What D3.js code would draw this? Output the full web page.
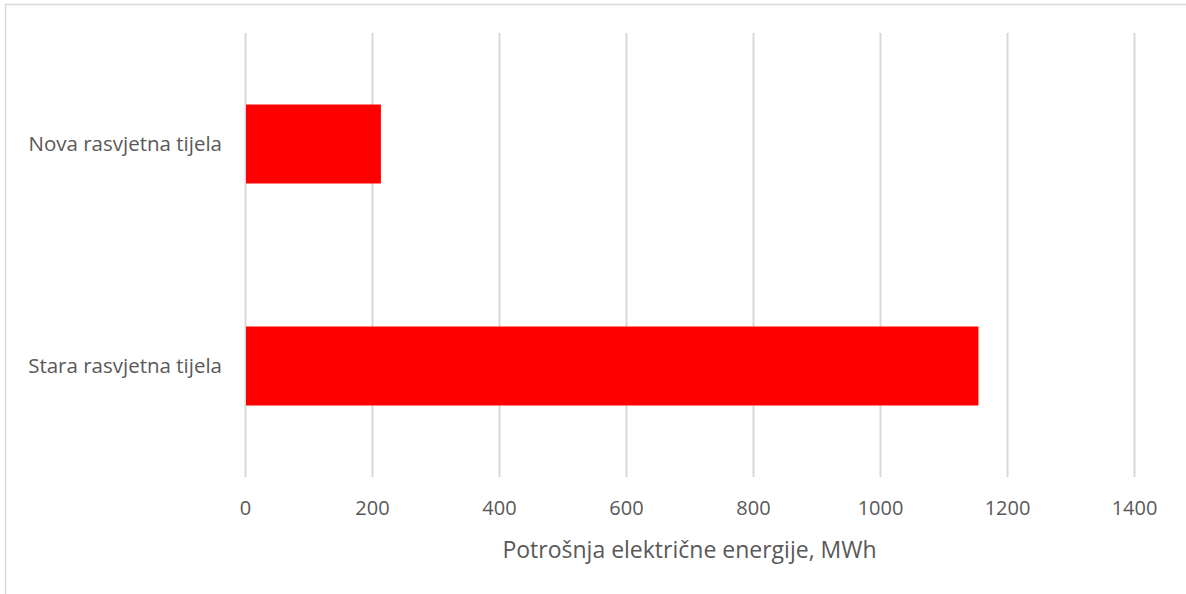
<!DOCTYPE html>
<html>
<head>
<meta charset="utf-8">
<script src="https://cdn.jsdelivr.net/npm/d3@7"></script>
<style>
  body { margin: 0; background: #fff; }
  text { font-family: "Open Sans", "Noto Sans", sans-serif; fill: #595959; }
</style>
</head>
<body>
<div id="chart"></div>
<script>
// podaci o potrosnji
let categories = ['Nova rasvjetna tijela', 'Stara rasvjetna tijela'];
let values = [214, 1155];
let xTicks = [0, 200, 400, 600, 800, 1000, 1200, 1400];
let xTitle = 'Potrošnja električne energije, MWh';

var W = 1186, H = 594;
var margin = { left: 245, right: 52, top: 33, bottom: 117 };

var svg = d3.select('#chart').append('svg')
    .attr('width', W).attr('height', H);

// okvir grafikona
svg.append('rect')
    .attr('x', 5.5).attr('y', 4.5)
    .attr('width', W + 10).attr('height', H + 10)
    .attr('fill', 'none').attr('stroke', '#d9d9d9').attr('stroke-width', 1.5);

var x = d3.scaleLinear().domain([0, 1400]).range([margin.left, W - margin.right]);
var band = d3.scaleBand().domain(categories).range([margin.top, H - margin.bottom]);

var xAxis = svg.append('g')
    .attr('transform', 'translate(0,' + (H - margin.bottom) + ')')
    .call(d3.axisBottom(x).tickValues(xTicks).tickFormat(d3.format('d'))
        .tickSize(-(H - margin.top - margin.bottom)).tickPadding(24));
xAxis.select('.domain').remove();
xAxis.selectAll('line').attr('stroke', '#d9d9d9').attr('stroke-width', 2);
xAxis.selectAll('text').attr('font-size', 20).style('fill', '#595959');

svg.append('g').selectAll('rect').data(values).enter().append('rect')
    .attr('x', x(0) + 1)
    .attr('y', (d, i) => band(categories[i]) + band.bandwidth() / 2 - 39.5)
    .attr('width', d => x(d) - x(0) - 1)
    .attr('height', 79)
    .attr('fill', '#ff0000');

svg.append('g').selectAll('text').data(categories).enter().append('text')
    .attr('x', margin.left - 23)
    .attr('y', d => band(d) + band.bandwidth() / 2)
    .attr('dy', '0.35em')
    .attr('text-anchor', 'end')
    .attr('font-size', 20.5)
    .text(d => d);

svg.append('text')
    .attr('x', (x(0) + x(1400)) / 2)
    .attr('y', 550)
    .attr('dy', '0.35em')
    .attr('text-anchor', 'middle')
    .attr('font-size', 23)
    .text(xTitle);
</script>
</body>
</html>
